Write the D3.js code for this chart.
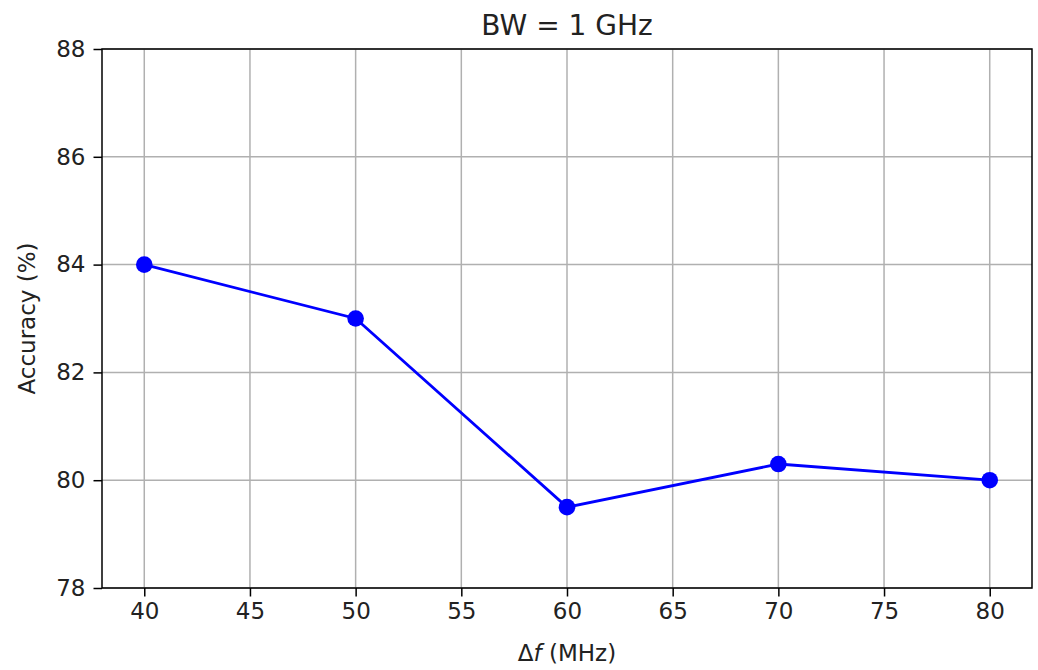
<!DOCTYPE html>
<html lang="en">
<head>
    <meta charset="UTF-8">
    <title>BW = 1 GHz</title>
    <script src="https://d3js.org/d3.v7.min.js"></script>
    <style>
        body { margin: 0; background: white; }
        svg { font-family: "DejaVu Sans", sans-serif; }
        .grid line { stroke: #b0b0b0; stroke-width: 1.5px; }
        .tick text { font-size: 23px; fill: #222; }
    </style>
</head>
<body>
<svg id="canvas" width="1038" height="670"></svg>
<script>
    // data
    let deltaF = [40, 50, 60, 70, 80];
    let accuracy = [84, 83, 79.5, 80.3, 80];
    let xTicks = [40, 45, 50, 55, 60, 65, 70, 75, 80];
    let yTicks = [78, 80, 82, 84, 86, 88];

    let svg = d3.select('svg');
    let margin = {left: 102, right: 1032, top: 49, bottom: 588};

    let x = d3.scaleLinear().domain([38, 82]).range([margin.left, margin.right]);
    let y = d3.scaleLinear().domain([78, 88]).range([margin.bottom, margin.top]);

    // grid
    let grid = svg.append('g').attr('class', 'grid');
    grid.selectAll('line.v').data(xTicks).enter().append('line')
        .attr('x1', d => x(d)).attr('x2', d => x(d))
        .attr('y1', margin.top).attr('y2', margin.bottom);
    grid.selectAll('line.h').data(yTicks).enter().append('line')
        .attr('y1', d => y(d)).attr('y2', d => y(d))
        .attr('x1', margin.left).attr('x2', margin.right);

    // axes
    let xAxis = d3.axisBottom(x).tickValues(xTicks).tickSize(8.5).tickPadding(6);
    let yAxis = d3.axisLeft(y).tickValues(yTicks).tickSize(8.5).tickPadding(8);
    let gx = svg.append('g').attr('transform', 'translate(0,' + margin.bottom + ')').call(xAxis);
    let gy = svg.append('g').attr('transform', 'translate(' + margin.left + ',0)').call(yAxis);
    [gx, gy].forEach(g => {
        g.select('.domain').remove();
        g.selectAll('.tick line').attr('stroke', '#000').attr('stroke-width', 1.5);
        g.selectAll('.tick text').style('font-family', '"DejaVu Sans", sans-serif');
    });

    // frame
    svg.append('rect')
        .attr('x', margin.left).attr('y', margin.top)
        .attr('width', margin.right - margin.left).attr('height', margin.bottom - margin.top)
        .attr('fill', 'none').attr('stroke', '#000').attr('stroke-width', 1.5);

    // line + markers
    let pts = deltaF.map((d, i) => [d, accuracy[i]]);
    svg.append('path')
        .datum(pts)
        .attr('fill', 'none')
        .attr('stroke', 'blue')
        .attr('stroke-width', 2.8)
        .attr('d', d3.line().x(d => x(d[0])).y(d => y(d[1])));
    svg.selectAll('circle').data(pts).enter().append('circle')
        .attr('cx', d => x(d[0])).attr('cy', d => y(d[1]))
        .attr('r', 8.3).attr('fill', 'blue');

    // texts
    svg.append('text')
        .attr('x', (margin.left + margin.right) / 2).attr('y', 35)
        .attr('text-anchor', 'middle').attr('font-size', 28).attr('fill', '#222')
        .text('BW = 1 GHz');
    let xl = svg.append('text')
        .attr('x', (margin.left + margin.right) / 2).attr('y', 661)
        .attr('text-anchor', 'middle').attr('font-size', 23).attr('fill', '#222');
    xl.append('tspan').text('Δ');
    xl.append('tspan').attr('font-style', 'italic').text('f');
    xl.append('tspan').text(' (MHz)');
    svg.append('text')
        .attr('transform', 'translate(35,' + (margin.top + margin.bottom) / 2 + ') rotate(-90)')
        .attr('text-anchor', 'middle').attr('font-size', 23).attr('fill', '#222')
        .text('Accuracy (%)');
</script>
</body>
</html>
